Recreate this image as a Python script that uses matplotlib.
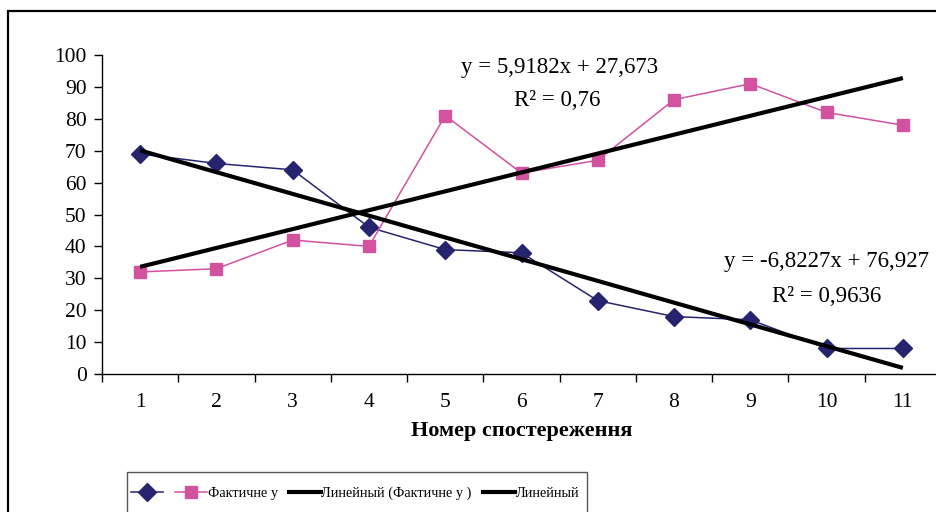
import numpy as np
import matplotlib.pyplot as plt
from matplotlib.patches import Rectangle
from matplotlib.lines import Line2D

plt.rcParams['font.family'] = ['Liberation Serif', 'DejaVu Serif']

# observation numbers and the two observed series
obs = [1, 2, 3, 4, 5, 6, 7, 8, 9, 10, 11]
y_blue = [69, 66, 64, 46, 39, 38, 23, 18, 17, 8, 8]
y_pink = [32, 33, 42, 40, 81, 63, 67, 86, 91, 82, 78]

blue = '#26246f'
pink = '#d2529f'

fig = plt.figure(figsize=(9.36, 5.12), dpi=100)
ax = fig.add_axes([102 / 936, 1 - 374 / 512, 839 / 936, 319 / 512])

x = np.array(obs)
ax.plot(x, y_blue, color=blue, lw=1.1, marker='D', ms=9, mec=blue, mfc=blue)
ax.plot(x, y_pink, color=pink, lw=1.1, marker='s', ms=8.5, mec=pink, mfc=pink)

# linear trendlines
kb = np.polyfit(x, y_blue, 1)
kp = np.polyfit(x, y_pink, 1)
ax.plot(x[[0, -1]], np.polyval(kp, x[[0, -1]]), color='black', lw=3, solid_capstyle='butt')
ax.plot(x[[0, -1]], np.polyval(kb, x[[0, -1]]), color='black', lw=3, solid_capstyle='butt')

ax.set_xlim(0.5, 11.5)
ax.set_ylim(0, 100)
ax.set_yticks(range(0, 101, 10))
ax.set_xticks(obs)
ax.set_xticks(np.arange(0.5, 12, 1), minor=True)
ax.tick_params(axis='x', which='major', length=0, pad=14, labelsize=15.5)
ax.tick_params(axis='x', which='minor', length=6, width=1, direction='out')
ax.tick_params(axis='y', length=6, width=1, labelsize=15.5, pad=5)
for s in ['top', 'right']:
    ax.spines[s].set_visible(False)
for s in ['left', 'bottom']:
    ax.spines[s].set_linewidth(1)
ax.set_xlabel('Номер спостереження', fontsize=16, fontweight='bold', labelpad=6)

fig.text(560 / 936, 1 - 67 / 512, 'y = 5,9182x + 27,673', fontsize=16.5, ha='center', va='center')
fig.text(557 / 936, 1 - 100 / 512, 'R² = 0,76', fontsize=16.5, ha='center', va='center')
fig.text(827 / 936, 1 - 262 / 512, 'y = -6,8227x + 76,927', fontsize=16.5, ha='center', va='center')
fig.text(827 / 936, 1 - 296 / 512, 'R² = 0,9636', fontsize=16.5, ha='center', va='center')

handles = [
    Line2D([], [], color=blue, lw=1.1, marker='D', ms=9, mfc=blue, mec=blue),
    Line2D([], [], color=pink, lw=1.1, marker='s', ms=8.5, mfc=pink, mec=pink),
    Line2D([], [], color='black', lw=3),
    Line2D([], [], color='black', lw=3),
]
labels = ['', 'Фактичне y', 'Линейный (Фактичне y )', 'Линейный']
leg = fig.legend(handles, labels, loc='center left', bbox_to_anchor=(127 / 936, 1 - 493 / 512),
                 ncol=4, fontsize=10.3, frameon=False, handlelength=2.25,
                 handletextpad=0.05, columnspacing=0.75, borderpad=0.3, borderaxespad=0)

# legend frame (runs past the bottom edge) and outer chart border
fig.patches.append(Rectangle((127 / 936, -0.1), 460 / 936, 0.1 + 1 - 472 / 512,
                             transform=fig.transFigure, fill=False, edgecolor='#555555', lw=1))
fig.patches.append(Rectangle((8 / 936, -0.2), 1.2, 1.2 - 11 / 512, transform=fig.transFigure,
                             fill=False, edgecolor='black', lw=1.6))

fig.savefig('out.png', dpi=100)
